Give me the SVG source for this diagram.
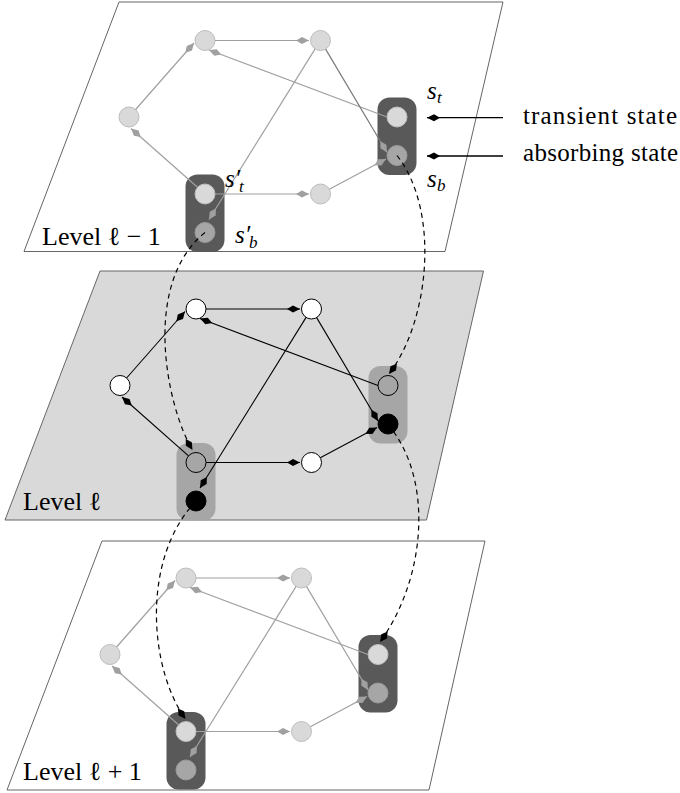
<svg xmlns="http://www.w3.org/2000/svg" width="680" height="793" viewBox="0 0 680 793">
<defs>
<style>
.plane{stroke:#666;stroke-width:1}
.txt{font-family:"Liberation Serif","Times New Roman",serif;fill:#000}
.lvl{font-size:26px}
.math{font-family:"Liberation Serif","Times New Roman",serif;font-style:italic;font-size:25px;fill:#000}
.sub{font-size:17px}
.eg{fill:none;stroke:#a0a0a0;stroke-width:1.2;marker-end:url(#ahg)}
.ek{fill:none;stroke:#000;stroke-width:1.1;marker-end:url(#ahk)}
.dash{fill:none;stroke:#000;stroke-width:1.2;stroke-dasharray:5 4;marker-end:url(#ahk)}
.nl{fill:#d9d9d9;stroke:#bdbdbd;stroke-width:1}
.nd{fill:#a6a6a6;stroke:#999;stroke-width:1}
.nw{fill:#fff;stroke:#000;stroke-width:1}
.nt{fill:none;stroke:#000;stroke-width:1}
.nb{fill:#000;stroke:#000;stroke-width:1}
.rdark{fill:#595959}
.rmid{fill:#a6a6a6}
</style>
<marker id="ahg" viewBox="-14 -5 15 10" markerWidth="15" markerHeight="10" refX="0" refY="0" orient="auto" markerUnits="userSpaceOnUse"><path d="M0,0 L-7,-3.5 L-13,0 L-7,3.5 Z" fill="#a0a0a0"/></marker>
<marker id="ahk" viewBox="-14 -5 15 10" markerWidth="15" markerHeight="10" refX="0" refY="0" orient="auto" markerUnits="userSpaceOnUse"><path d="M0,0 L-7,-3.5 L-13,0 L-7,3.5 Z" fill="#000"/></marker>
</defs>

<!-- Level l-1 (top) -->
<g id="level-top">
<polygon class="plane" fill="#fff" points="119,2 503,2 445,251.5 24,251.5"/>
<g transform="translate(205,40.5)">
<rect class="rdark" x="172.5" y="57" width="39" height="77.5" rx="12"/>
<rect class="rdark" x="-19.5" y="134" width="39" height="77.5" rx="12"/>
<g id="top-A"><circle class="nl" cx="0" cy="0" r="10"/></g>
<g id="top-B"><circle class="nl" cx="115.5" cy="0" r="10"/></g>
<g id="top-C"><circle class="nl" cx="-76" cy="76.5" r="10"/></g>
<g id="top-st"><circle class="nl" cx="192" cy="76.5" r="10"/></g>
<g id="top-sb"><circle class="nd" cx="192" cy="115" r="10"/></g>
<g id="top-st2"><circle class="nl" cx="0" cy="153.5" r="10"/></g>
<g id="top-sb2"><circle class="nd" cx="0" cy="192" r="10"/></g>
<g id="top-D"><circle class="nl" cx="115.5" cy="153.5" r="10"/></g>
<g id="top-edges">
<path class="eg" d="M-69.4,69 L-11,2.5"/>
<path class="eg" d="M10,0 L104,0"/>
<path class="eg" d="M182,76.5 L4,9.5"/>
<path class="eg" style="stroke:#7a7a7a" d="M120.6,8.6 L182,112"/>
<path class="eg" d="M110.1,8.4 L4,179"/>
<path class="eg" d="M-7.5,146.8 L-74,88"/>
<path class="eg" d="M10,153.5 L104,153.5"/>
<path class="eg" d="M124.3,148.8 L181,118.5"/>
</g>
</g>
<text class="txt lvl" x="42" y="245">Level ℓ − 1</text>
<text class="math" x="427" y="99">s<tspan class="sub" x="437" y="103">t</tspan></text>
<text class="math" x="427" y="187">s<tspan class="sub" x="437" y="191">b</tspan></text>
<text class="math" x="225" y="187">s′<tspan class="sub" x="239" y="192">t</tspan></text>
<text class="math" x="235" y="243">s′<tspan class="sub" x="249" y="248">b</tspan></text>
</g>

<!-- Level l (middle) -->
<g id="level-mid">
<polygon class="plane" fill="#d9d9d9" points="100,271 483.5,271 426.5,520 5,520"/>
<g transform="translate(196,309)">
<rect class="rmid" x="172.5" y="57" width="39" height="77.5" rx="12"/>
<rect class="rmid" x="-19.5" y="134" width="39" height="77.5" rx="12"/>
<g id="mid-A"><circle class="nw" cx="0" cy="0" r="10"/></g>
<g id="mid-B"><circle class="nw" cx="115.5" cy="0" r="10"/></g>
<g id="mid-C"><circle class="nw" cx="-76" cy="76.5" r="10"/></g>
<g id="mid-st"><circle class="nt" cx="192" cy="76.5" r="10"/></g>
<g id="mid-sb"><circle class="nb" cx="192" cy="115" r="10"/></g>
<g id="mid-st2"><circle class="nt" cx="0" cy="153.5" r="10"/></g>
<g id="mid-sb2"><circle class="nb" cx="0" cy="192" r="10"/></g>
<g id="mid-D"><circle class="nw" cx="115.5" cy="153.5" r="10"/></g>
<g id="mid-edges">
<path class="ek" d="M-69.4,69 L-11,2.5"/>
<path class="ek" d="M10,0 L104,0"/>
<path class="ek" d="M182,76.5 L4,9.5"/>
<path class="ek" d="M120.6,8.6 L182,112"/>
<path class="ek" d="M110.1,8.4 L4,179"/>
<path class="ek" d="M-7.5,146.8 L-74,88"/>
<path class="ek" d="M10,153.5 L104,153.5"/>
<path class="ek" d="M124.3,148.8 L181,118.5"/>
</g>
</g>
<text class="txt lvl" x="23" y="510">Level ℓ</text>
</g>

<!-- Level l+1 (bottom) -->
<g id="level-bot">
<polygon class="plane" fill="#fff" points="102,541 485,541 429,790 7,790"/>
<g transform="translate(186,578)">
<rect class="rdark" x="172.5" y="57" width="39" height="77.5" rx="12"/>
<rect class="rdark" x="-19.5" y="134" width="39" height="77.5" rx="12"/>
<g id="bot-A"><circle class="nl" cx="0" cy="0" r="10"/></g>
<g id="bot-B"><circle class="nl" cx="115.5" cy="0" r="10"/></g>
<g id="bot-C"><circle class="nl" cx="-76" cy="76.5" r="10"/></g>
<g id="bot-st"><circle class="nl" cx="192" cy="76.5" r="10"/></g>
<g id="bot-sb"><circle class="nd" cx="192" cy="115" r="10"/></g>
<g id="bot-st2"><circle class="nl" cx="0" cy="153.5" r="10"/></g>
<g id="bot-sb2"><circle class="nd" cx="0" cy="192" r="10"/></g>
<g id="bot-D"><circle class="nl" cx="115.5" cy="153.5" r="10"/></g>
<g id="bot-edges">
<path class="eg" d="M-69.4,69 L-11,2.5"/>
<path class="eg" d="M10,0 L104,0"/>
<path class="eg" d="M182,76.5 L4,9.5"/>
<path class="eg" d="M120.6,8.6 L182,112"/>
<path class="eg" d="M110.1,8.4 L4,179"/>
<path class="eg" d="M-7.5,146.8 L-74,88"/>
<path class="eg" d="M10,153.5 L104,153.5"/>
<path class="eg" d="M124.3,148.8 L181,118.5"/>
</g>
</g>
<text class="txt lvl" x="23" y="780">Level ℓ + 1</text>
</g>

<!-- inter-level connectors -->
<g id="connectors">
<path class="dash" d="M205,232.5 C140,285 168,410 192.5,450"/>
<path class="dash" d="M397,155.5 C440,210 430,320 389,374"/>
<path class="dash" d="M196,501 C140,560 150,670 185.5,719"/>
<path class="dash" d="M388,424.5 C435,480 425,580 380,642"/>
</g>

<!-- legend -->
<g id="legend-transient">
<path class="ek" style="stroke-width:1.3" d="M503,117.7 L427,117.7"/>
<text class="txt" style="font-size:25px" x="523" y="124" textLength="154" lengthAdjust="spacing">transient state</text>
</g>
<g id="legend-absorbing">
<path class="ek" style="stroke-width:1.3" d="M503,156 L427,156"/>
<text class="txt" style="font-size:25px" x="523" y="161" textLength="155" lengthAdjust="spacing">absorbing state</text>
</g>
</svg>
